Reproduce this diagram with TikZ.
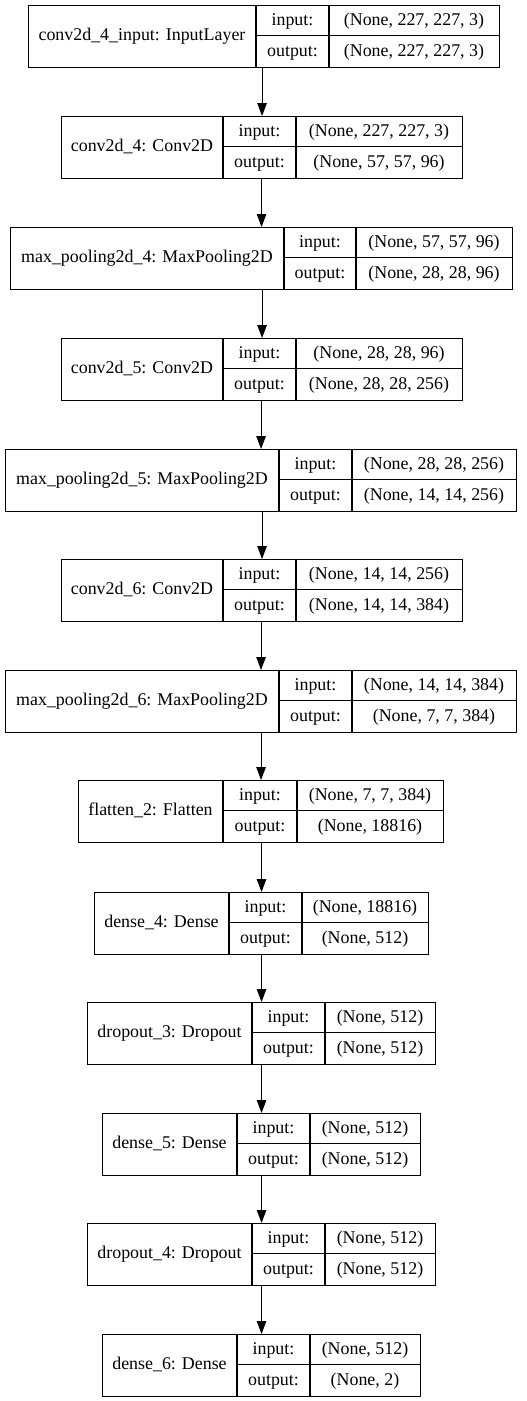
\documentclass[tikz,border=0pt]{standalone}
\usepackage{fontspec}
\setmainfont{Liberation Serif}
\usetikzlibrary{arrows.meta}

\tikzset{
  boxline/.style={draw=black, line width=1.1pt},
  outer/.style={boxline, rectangle, inner sep=0pt, anchor=north west, minimum height=61.5pt},
  txt/.style={inner sep=0pt, font=\fontsize{17.9}{20}\selectfont, text height=13.6pt, text depth=3.6pt},
  flow/.style={draw=black, line width=1.1pt, -{Triangle[length=13pt,width=9.5pt]}},
}

% #1 name, #2 top, #3 left, #4 first divider, #5 second divider, #6 right,
% #7 layer label, #8 input shape, #9 output shape
\newcommand\layerbox[9]{%
  \node[outer, minimum width={(#6)-(#3)}] (#1) at (#3,#2) {};
  \draw[boxline] (#4,#2) -- (#4,{#2+61.5});
  \draw[boxline] (#5,#2) -- (#5,{#2+61.5});
  \draw[boxline] (#4,{#2+30.75}) -- (#6,{#2+30.75});
  \node[txt] (#1-lbl) at ({(#3+#4)/2},{#2+30.75}) {#7};
  \node[txt] (#1-ik) at ({(#4+#5)/2},{#2+15.4}) {input:};
  \node[txt] (#1-ok) at ({(#4+#5)/2},{#2+46.1}) {output:};
  \node[txt] (#1-iv) at ({(#5+#6)/2},{#2+15.4}) {#8};
  \node[txt] (#1-ov) at ({(#5+#6)/2},{#2+46.1}) {#9};
}

\begin{document}
\begin{tikzpicture}[x=1pt,y=-1pt]
  \fill[white] (0,0) rectangle (527,1401);
  \useasboundingbox (0,0) rectangle (527,1401);

  \layerbox{L1}{5}{28}{256}{329}{499}{conv2d\_4\_input: InputLayer}{(None, 227, 227, 3)}{(None, 227, 227, 3)}
  \layerbox{L2}{116}{61}{223}{296}{462}{conv2d\_4: Conv2D}{(None, 227, 227, 3)}{(None, 57, 57, 96)}
  \layerbox{L3}{227}{10}{284}{356}{512}{max\_pooling2d\_4: MaxPooling2D}{(None, 57, 57, 96)}{(None, 28, 28, 96)}
  \layerbox{L4}{338}{61}{223}{296}{462}{conv2d\_5: Conv2D}{(None, 28, 28, 96)}{(None, 28, 28, 256)}
  \layerbox{L5}{449}{5}{279}{352}{516}{max\_pooling2d\_5: MaxPooling2D}{(None, 28, 28, 256)}{(None, 14, 14, 256)}
  \layerbox{L6}{559}{61}{223}{296}{462}{conv2d\_6: Conv2D}{(None, 14, 14, 256)}{(None, 14, 14, 384)}
  \layerbox{L7}{670}{5}{279}{352}{516}{max\_pooling2d\_6: MaxPooling2D}{(None, 14, 14, 384)}{(None, 7, 7, 384)}
  \layerbox{L8}{780}{78}{223}{297}{443}{flatten\_2: Flatten}{(None, 7, 7, 384)}{(None, 18816)}
  \layerbox{L9}{892}{94}{229}{302}{428}{dense\_4: Dense}{(None, 18816)}{(None, 512)}
  \layerbox{L10}{1002}{87}{252}{325}{435}{dropout\_3: Dropout}{(None, 512)}{(None, 512)}
  \layerbox{L11}{1113}{102}{237}{310}{420}{dense\_5: Dense}{(None, 512)}{(None, 512)}
  \layerbox{L12}{1223}{87}{252}{325}{435}{dropout\_4: Dropout}{(None, 512)}{(None, 512)}
  \layerbox{L13}{1334}{102}{237}{310}{420}{dense\_6: Dense}{(None, 512)}{(None, 2)}

  % data flow between consecutive layers
  \foreach \a/\b in {L1/L2, L2/L3, L3/L4, L4/L5, L5/L6, L6/L7, L7/L8, L8/L9, L9/L10, L10/L11, L11/L12, L12/L13}
    \draw[flow] (\a.south -| \b.north) -- (\b.north);
\end{tikzpicture}
\end{document}
